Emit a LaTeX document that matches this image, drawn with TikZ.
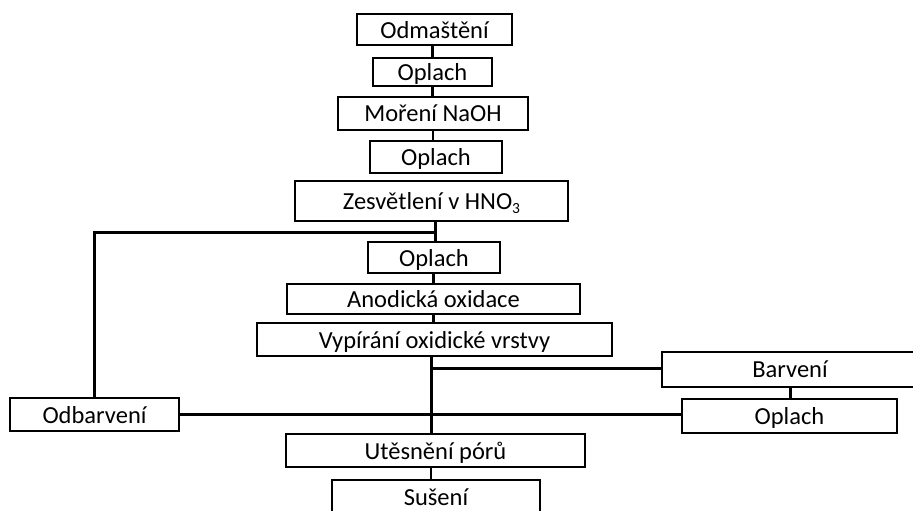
\documentclass[tikz,border=0pt]{standalone}
\usepackage{fontspec}
\setmainfont{Carlito}
\begin{document}
\begin{tikzpicture}[x=1pt,y=-1pt,
  box/.style={draw=black,line width=1.7pt,fill=white,rectangle,inner sep=0pt,
    text depth=0pt,font=\fontsize{24.5}{27}\selectfont},
  conn/.style={line width=3pt},
  thin/.style={line width=1.6pt}]
\useasboundingbox[fill=white] (0,0) rectangle (913,511);
\newcommand{\bx}[6]{\node[box,minimum width=#4,minimum height=#5] (#1) at (#2,#3) {#6};}
\bx{od}{434.5}{29.5}{155pt}{31pt}{Odmaštění}
\bx{op1}{432.5}{72}{119pt}{28pt}{Oplach}
\bx{mor}{433}{113.5}{190pt}{33pt}{Moření NaOH}
\bx{op2}{436}{157}{132pt}{32pt}{Oplach}
\bx{zes}{431.5}{201}{273pt}{40pt}{Zesvětlení v HNO\raisebox{-0.15em}{\fontsize{15.5}{15.5}\selectfont 3}}
\bx{op3}{434}{257.5}{132pt}{31pt}{Oplach}
\bx{ano}{433.5}{299}{293pt}{30pt}{Anodická oxidace}
\bx{vyp}{434.5}{339.5}{355pt}{33pt}{Vypírání oxidické vrstvy}
\bx{bar}{790}{369.5}{256pt}{35pt}{Barvení}
\bx{op4}{789.5}{416}{215pt}{34pt}{Oplach}
\bx{odb}{94.5}{414.5}{169pt}{33pt}{Odbarvení}
\bx{ute}{435.5}{450.5}{299pt}{33pt}{Utěsnění pórů}
\bx{sus}{436}{497}{208pt}{34pt}{Sušení}
\coordinate (j1) at (435,232);
\coordinate (j2) at (431,368);
\draw[conn] (od.south -| op1.north) -- (op1.north);
\draw[conn] (op1.south) -- (op1.south |- mor.north);
\draw[thin] (mor.south) -- (mor.south |- op2.north);
\draw[conn] (op2.south -| j1) -- (op2.south -| j1 |- zes.north);
\draw[conn] (j1 |- zes.south) -- (j1 |- op3.north);
\draw[conn] (j1) -| (odb.north);
\draw[conn] (op3.south -| ano.north) -- (ano.north);
\draw[conn] (ano.south) -- (ano.south |- vyp.north);
\draw[conn] (j2 |- vyp.south) -- (j2 |- ute.north);
\draw[conn] (j2) -- (j2 -| bar.west);
\draw[conn] (bar.south) -- (bar.south |- op4.north);
\draw[conn] (odb.east) -- (odb.east -| op4.west);
\draw[thin] (j2 |- ute.south) -- (j2 |- sus.north);
\end{tikzpicture}
\end{document}
